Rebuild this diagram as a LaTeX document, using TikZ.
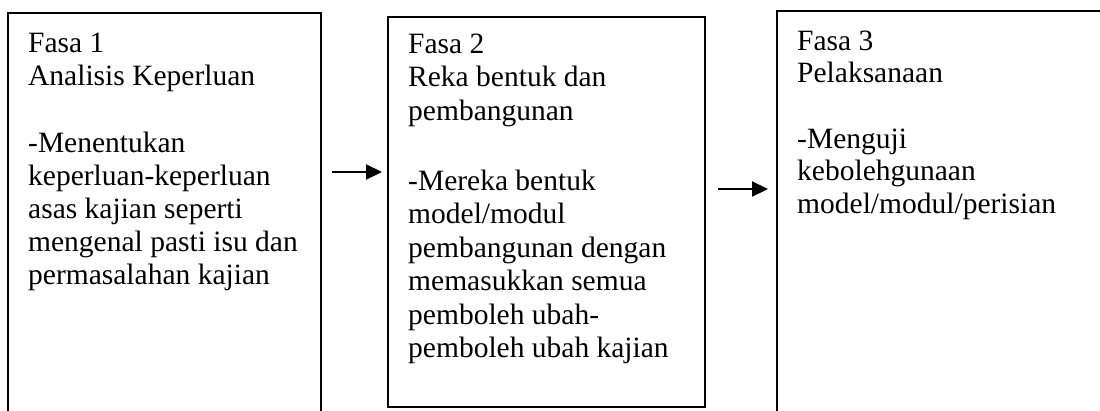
\documentclass[tikz,border=0pt]{standalone}
\usepackage{fontspec}
\setmainfont{Liberation Serif}
\usetikzlibrary{arrows.meta}
\newcommand{\boxtext}[2]{\vtop{\baselineskip=#1\lineskiplimit=-100pt\lineskip=0pt #2}}
\begin{document}
\begin{tikzpicture}[x=1pt,y=-1pt,
  phasebox/.style={draw, rectangle, line width=1.5pt, inner sep=0pt, outer sep=0pt, anchor=north west},
  phasetext/.style={inner sep=0pt, anchor=base west, font=\fontsize{29.5pt}{33pt}\selectfont},
  arr/.style={line width=2.2pt, -{Triangle[length=16pt,width=15pt]}}]
\useasboundingbox (0,0) rectangle (1100,410);
\clip (0,0) rectangle (1100,410);
\fill[white] (0,0) rectangle (1100,410);
% boxes
\node[phasebox, minimum width=313pt, minimum height=420pt] (b1) at (8,13) {};
\node[phasebox, minimum width=317pt, minimum height=390pt] (b2) at (388,17) {};
\node[phasebox, minimum width=400pt, minimum height=420pt] (b3) at (777,11) {};
% texts
\node[phasetext] (t1) at (28,52) {\boxtext{33pt}{%
  \hbox{Fasa 1}\hbox{Analisis Keperluan}\vskip 34pt
  \hbox{-Menentukan}\hbox{keperluan-keperluan}\hbox{asas kajian seperti}%
  \hbox{mengenal pasti isu dan}\hbox{permasalahan kajian}}};
\node[phasetext] (t2) at (408,53) {\boxtext{33.5pt}{%
  \hbox{Fasa 2}\hbox{Reka bentuk dan}\hbox{pembangunan}\vskip 36.5pt
  \hbox{-Mereka bentuk}\hbox{model/modul}\hbox{pembangunan dengan}%
  \hbox{memasukkan semua}\hbox{pemboleh ubah-}\hbox{pemboleh ubah kajian}}};
\node[phasetext] (t3) at (797,50) {\boxtext{32.5pt}{%
  \hbox{Fasa 3}\hbox{Pelaksanaan}\vskip 33pt
  \hbox{-Menguji}\hbox{kebolehgunaan}\hbox{model/modul/perisian}}};
% arrows
\coordinate (a1s) at (332,172);
\coordinate (a1e) at (382,172);
\coordinate (a2s) at (718,189);
\coordinate (a2e) at (768,189);
\draw[arr] (a1s) -- (a1e);
\draw[arr] (a2s) -- (a2e);
\end{tikzpicture}
\end{document}
